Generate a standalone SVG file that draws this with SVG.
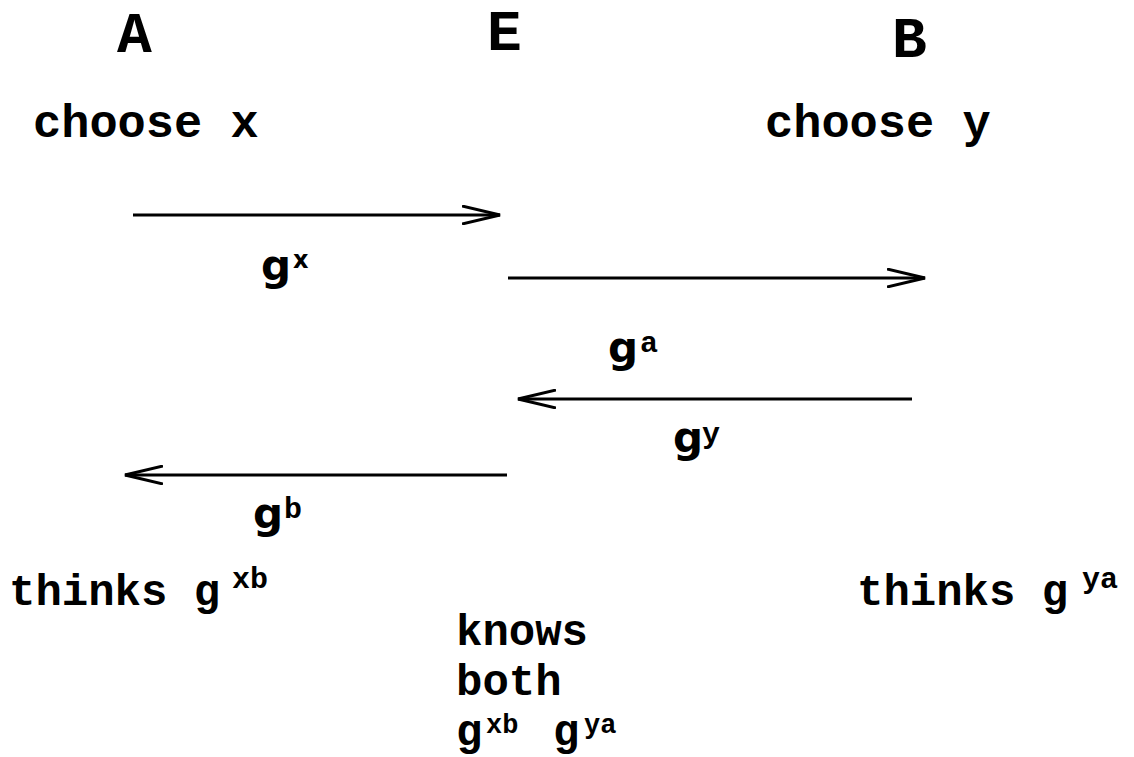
<svg xmlns="http://www.w3.org/2000/svg" width="1134" height="757" viewBox="0 0 1134 757">
<style>
.m{font-family:"Liberation Mono","Courier New",monospace;font-weight:bold;fill:#000}
.c{font-size:47px}
.t{font-size:44px}
.h{font-size:58px}
.s{font-size:30px}
.ss{font-size:27px}
.g{font-family:"DejaVu Sans","Verdana",sans-serif;font-weight:bold;font-size:42px;fill:#000}
.gs{font-family:"DejaVu Sans","Verdana",sans-serif;font-weight:bold;font-size:24px;fill:#000}
.ln{stroke:#000;stroke-width:3;fill:none}
</style>
<defs>
<marker id="ah" markerWidth="40" markerHeight="20" refX="38" refY="10" orient="auto" markerUnits="userSpaceOnUse">
<path d="M0,1 L38,10 L0,19" fill="none" stroke="#000" stroke-width="3"/>
</marker>
</defs>
<rect width="1134" height="757" fill="#fff"/>
<g id="nodeA"><text class="m h" x="117" y="52">A</text></g>
<g id="nodeE"><text class="m h" x="487" y="50">E</text></g>
<g id="nodeB"><text class="m h" x="892" y="57">B</text></g>
<g id="chooseX"><text class="m c" x="33" y="137">choose x</text></g>
<g id="chooseY"><text class="m c" x="765" y="137">choose y</text></g>
<g id="connectors">
<line class="ln" x1="133" y1="215" x2="500" y2="215" marker-end="url(#ah)"/>
<line class="ln" x1="508" y1="278" x2="925" y2="278" marker-end="url(#ah)"/>
<line class="ln" x1="912" y1="399" x2="518" y2="399" marker-end="url(#ah)"/>
<line class="ln" x1="507" y1="475" x2="125" y2="475" marker-end="url(#ah)"/>
</g>
<g id="labelGx"><text class="g" x="261" y="280">g</text><text class="gs" x="293" y="268">x</text></g>
<g id="labelGa"><text class="g" x="608" y="362">g</text><text class="m s" x="640" y="352">a</text></g>
<g id="labelGy"><text class="g" x="673" y="452">g</text><text class="m s" x="702" y="443">y</text></g>
<g id="labelGb"><text class="g" x="253" y="528">g</text><text class="m s" x="284" y="518">b</text></g>
<g id="thinksA"><text class="m t" x="9" y="605">thinks g</text><text class="m s" x="232" y="588">xb</text></g>
<g id="thinksB"><text class="m t" x="857" y="605">thinks g</text><text class="m s" x="1082" y="588">ya</text></g>
<g id="knowsE">
<text class="m t" x="456" y="645">knows</text>
<text class="m t" x="456" y="695">both</text>
<text class="m t" x="456" y="745">g</text><text class="m ss" x="486" y="733">xb</text>
<text class="m t" x="553" y="745">g</text><text class="m ss" x="584" y="733">ya</text>
</g>
</svg>
